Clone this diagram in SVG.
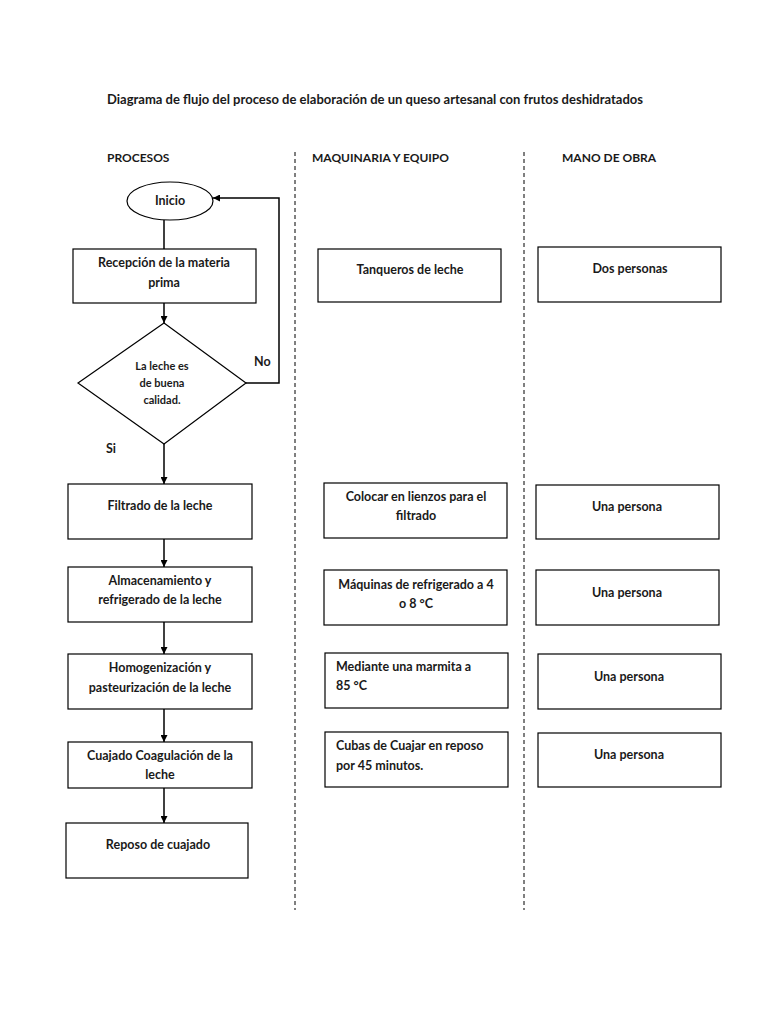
<svg xmlns="http://www.w3.org/2000/svg" width="768" height="1024" viewBox="0 0 768 1024">
<defs>
<marker id="arr" viewBox="0 0 10 10" refX="10" refY="5" markerWidth="7" markerHeight="7" markerUnits="userSpaceOnUse" orient="auto">
<path d="M0,0 L10,5 L0,10 z" fill="#000"/>
</marker>
<style>
text{font-family:Lato,"Liberation Sans",sans-serif;font-weight:700;font-size:12.5px;fill:#1a1a1a}
.c{text-anchor:middle}
.s{font-size:11px}
.h{font-size:12px}
.box{fill:#fff;stroke:#000;stroke-width:1.2}
.dash{stroke:#000;stroke-width:1;stroke-dasharray:4 3;fill:none}
.ln{stroke:#000;stroke-width:1.5;fill:none}
</style>
</defs>
<rect width="768" height="1024" fill="#fff"/>
<g id="title">
<text x="107" y="104" textLength="536" lengthAdjust="spacingAndGlyphs">Diagrama de flujo del proceso de elaboración de un queso artesanal con frutos deshidratados</text>
</g>
<g id="headers">
<text class="h" x="107" y="162">PROCESOS</text>
<text class="h" x="312" y="162">MAQUINARIA Y EQUIPO</text>
<text class="h" x="562" y="162">MANO DE OBRA</text>
</g>
<g id="lanes">
<line class="dash" x1="295" y1="152" x2="295" y2="910"/>
<line class="dash" x1="524" y1="152" x2="524" y2="910"/>
</g>
<g id="connectors">
<line class="ln" x1="164" y1="220" x2="164" y2="249"/>
<line class="ln" x1="164" y1="303" x2="164" y2="323" marker-end="url(#arr)"/>
<polyline class="ln" points="246,383 279,383 279,198 213,198" marker-end="url(#arr)"/>
<line class="ln" x1="164" y1="444" x2="164" y2="484" marker-end="url(#arr)"/>
<line class="ln" x1="164" y1="539" x2="164" y2="567" marker-end="url(#arr)"/>
<line class="ln" x1="164" y1="622" x2="164" y2="654" marker-end="url(#arr)"/>
<line class="ln" x1="164" y1="709" x2="164" y2="742" marker-end="url(#arr)"/>
<line class="ln" x1="164" y1="788" x2="164" y2="823" marker-end="url(#arr)"/>
<text x="254" y="366">No</text>
<text x="106" y="453">Si</text>
</g>
<g id="inicio">
<ellipse cx="170" cy="201" rx="43" ry="19" class="box"/>
<text class="c" x="170" y="205">Inicio</text>
</g>
<g id="recepcion">
<rect class="box" x="73" y="249" width="183" height="54"/>
<text class="c" x="164" y="267">Recepción de la materia</text>
<text class="c" x="164" y="287">prima</text>
</g>
<g id="decision">
<polygon class="box" points="164,323 246,383 164,444 78,383"/>
<text class="c s" x="162" y="370">La leche es</text>
<text class="c s" x="162" y="387">de buena</text>
<text class="c s" x="162" y="404">calidad.</text>
</g>
<g id="filtrado">
<rect class="box" x="68" y="484" width="184" height="55"/>
<text class="c" x="160" y="510">Filtrado de la leche</text>
</g>
<g id="almacenamiento">
<rect class="box" x="68" y="567" width="184" height="55"/>
<text class="c" x="160" y="585">Almacenamiento y</text>
<text class="c" x="160" y="604">refrigerado de la leche</text>
</g>
<g id="homogenizacion">
<rect class="box" x="68" y="654" width="184" height="55"/>
<text class="c" x="160" y="672">Homogenización y</text>
<text class="c" x="160" y="692">pasteurización de la leche</text>
</g>
<g id="cuajado">
<rect class="box" x="68" y="742" width="184" height="46"/>
<text class="c" x="160" y="760">Cuajado Coagulación de la</text>
<text class="c" x="160" y="779">leche</text>
</g>
<g id="reposo">
<rect class="box" x="66" y="823" width="182" height="55"/>
<text class="c" x="158" y="849">Reposo de cuajado</text>
</g>
<g id="tanqueros">
<rect class="box" x="318" y="249" width="183" height="53"/>
<text class="c" x="410" y="274">Tanqueros de leche</text>
</g>
<g id="colocar">
<rect class="box" x="324" y="483" width="183" height="55"/>
<text class="c" x="416" y="501">Colocar en lienzos para el</text>
<text class="c" x="416" y="520">filtrado</text>
</g>
<g id="maquinas">
<rect class="box" x="324" y="570" width="183" height="55"/>
<text class="c" x="416" y="589">Máquinas de refrigerado a 4</text>
<text class="c" x="416" y="608">o 8 °C</text>
</g>
<g id="mediante">
<rect class="box" x="325" y="653" width="183" height="55"/>
<text x="336" y="671">Mediante una marmita a</text>
<text x="336" y="690">85 °C</text>
</g>
<g id="cubas">
<rect class="box" x="325" y="732" width="183" height="55"/>
<text x="336" y="750">Cubas de Cuajar en reposo</text>
<text x="336" y="770">por 45 minutos.</text>
</g>
<g id="dos-personas">
<rect class="box" x="538" y="247" width="183" height="55"/>
<text class="c" x="630" y="273">Dos personas</text>
</g>
<g id="persona1">
<rect class="box" x="536" y="485" width="183" height="54"/>
<text class="c" x="627" y="511">Una persona</text>
</g>
<g id="persona2">
<rect class="box" x="536" y="570" width="183" height="55"/>
<text class="c" x="627" y="597">Una persona</text>
</g>
<g id="persona3">
<rect class="box" x="538" y="654" width="183" height="55"/>
<text class="c" x="629" y="681">Una persona</text>
</g>
<g id="persona4">
<rect class="box" x="538" y="733" width="183" height="54"/>
<text class="c" x="629" y="759">Una persona</text>
</g>
</svg>
